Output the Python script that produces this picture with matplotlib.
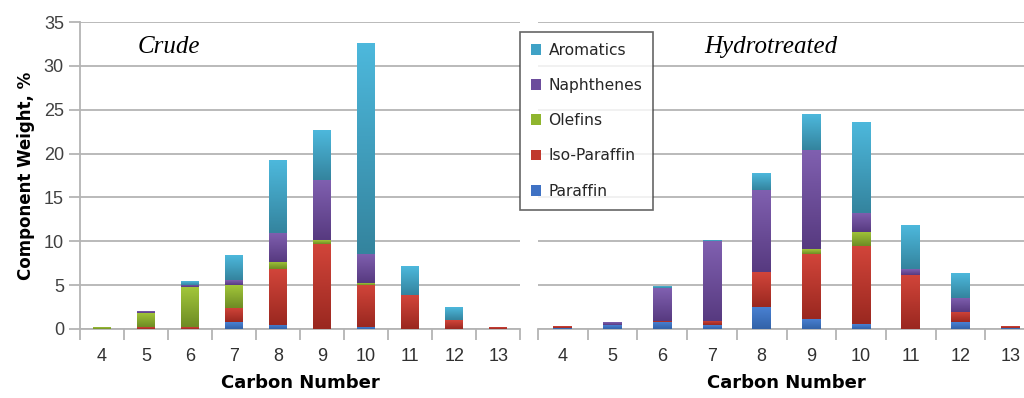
import matplotlib
matplotlib.use("Agg")
import matplotlib.pyplot as plt
import numpy as np
from matplotlib.colors import LinearSegmentedColormap
from matplotlib.patches import Patch

carbon = [4, 5, 6, 7, 8, 9, 10, 11, 12, 13]
groups = ["Paraffin", "Iso-Paraffin", "Olefins", "Naphthenes", "Aromatics"]

# component weight, % by carbon number (stacked bottom -> top)
crude_paraffin = [0.0, 0.0, 0.0, 0.76, 0.5, 0.0, 0.2, 0.0, 0.0, 0.0]
crude_iso = [0.0, 0.2, 0.2, 1.6, 6.3, 9.7, 4.8, 3.85, 1.0, 0.2]
crude_olefins = [0.15, 1.6, 4.55, 2.6, 0.8, 0.4, 0.2, 0.0, 0.0, 0.0]
crude_naphthenes = [0.0, 0.2, 0.27, 0.57, 3.4, 6.85, 3.35, 0.0, 0.0, 0.0]
crude_aromatics = [0.0, 0.0, 0.38, 2.8, 8.3, 5.6, 23.95, 3.2, 1.45, 0.0]

hydro_paraffin = [0.15, 0.4, 0.83, 0.45, 2.55, 1.15, 0.57, 0.0, 0.75, 0.15]
hydro_iso = [0.2, 0.05, 0.12, 0.5, 3.9, 7.45, 8.9, 6.2, 1.15, 0.2]
hydro_olefins = [0.0, 0.0, 0.0, 0.0, 0.0, 0.5, 1.6, 0.0, 0.0, 0.0]
hydro_naphthenes = [0.0, 0.3, 3.7, 9.05, 9.45, 11.3, 2.2, 0.65, 1.6, 0.0]
hydro_aromatics = [0.0, 0.0, 0.15, 0.1, 1.9, 4.0, 10.35, 5.0, 2.75, 0.0]

# (legend colour, light top, dark bottom) per component
COLORS = {
    "Paraffin": ("#3f72c4", "#4a82d4", "#3262a8"),
    "Iso-Paraffin": ("#c0392e", "#d2453a", "#9a2820"),
    "Olefins": ("#8fb52e", "#a2c63a", "#6e8c24"),
    "Naphthenes": ("#6c4d9c", "#8060b0", "#573a80"),
    "Aromatics": ("#3fa2c6", "#4db8dc", "#34849e"),
}
GRID = "#b4b4b4"
TICK_FONT = ["Liberation Sans Narrow", "Liberation Sans", "DejaVu Sans"]


def gradient_bar(ax, x, bottom, height, width, name):
    if height <= 0:
        return
    _, top, bot = COLORS[name]
    cmap = LinearSegmentedColormap.from_list(name, [bot, top])
    grad = np.linspace(0, 1, 64).reshape(-1, 1)
    ax.imshow(grad, cmap=cmap, origin="lower", aspect="auto", interpolation="bicubic",
              extent=[x - width / 2, x + width / 2, bottom, bottom + height], zorder=3)


def draw_panel(ax, data, width, title, title_x):
    x = np.arange(len(carbon))
    bottom = np.zeros(len(carbon))
    for name, vals in zip(groups, data):
        vals = np.asarray(vals)
        for xi, b, h in zip(x, bottom, vals):
            gradient_bar(ax, xi, b, h, width, name)
        bottom += vals
    ax.set_xlim(-0.5, len(carbon) - 0.5)
    ax.set_ylim(0, 35)
    ax.set_yticks(np.arange(0, 36, 5))
    ax.yaxis.grid(True, color=GRID, lw=1.3)
    ax.set_axisbelow(True)
    ax.set_xticks(x)
    ax.set_xticklabels(carbon, fontsize=13, family=TICK_FONT, color="#303030")
    ax.set_xticks(np.arange(-0.5, len(carbon), 1.0), minor=True)
    ax.tick_params(axis="x", which="major", length=0, pad=14)
    ax.tick_params(axis="x", which="minor", length=8, color=GRID, width=1.3)
    for s in ("top", "right"):
        ax.spines[s].set_visible(False)
    ax.spines["bottom"].set_color(GRID)
    ax.spines["bottom"].set_linewidth(1.3)
    ax.set_xlabel("Carbon Number", fontsize=13, fontweight="bold", labelpad=6)
    ax.text(title_x, 32.2, title, fontsize=18, style="italic", family="Liberation Serif",
            ha="left", va="center")


fig = plt.figure(figsize=(10.24, 3.98), dpi=100)
ax1 = fig.add_axes([0.078, 0.1734, 0.430, 0.7713])
ax2 = fig.add_axes([0.5254, 0.1734, 0.4854, 0.7713])

draw_panel(ax1, [crude_paraffin, crude_iso, crude_olefins, crude_naphthenes, crude_aromatics],
           0.40, "Crude", 0.8)
draw_panel(ax2, [hydro_paraffin, hydro_iso, hydro_olefins, hydro_naphthenes, hydro_aromatics],
           0.38, "Hydrotreated", 2.85)

ax1.spines["left"].set_color(GRID)
ax1.spines["left"].set_linewidth(1.3)
ax1.tick_params(axis="y", length=8, color=GRID, width=1.3, labelsize=13, labelcolor="#404040")
for lab in ax1.get_yticklabels():
    lab.set_family(TICK_FONT)
ax1.set_ylabel("Component Weight, %", fontsize=12, fontweight="bold", labelpad=6)

ax2.spines["left"].set_visible(False)
ax2.tick_params(axis="y", left=False, labelleft=False)

handles = [Patch(facecolor=COLORS[g][0], edgecolor="none") for g in reversed(groups)]
leg = fig.legend(handles, list(reversed(groups)), loc="upper left",
                 bbox_to_anchor=(0.5075, 0.92), fontsize=11.2, frameon=True, fancybox=False,
                 edgecolor="#404040", handlelength=0.7, handleheight=0.7, handletextpad=0.45,
                 labelspacing=1.3, borderpad=0.7, borderaxespad=0.0)
leg.get_frame().set_linewidth(1.2)
for t in leg.get_texts():
    t.set_color("#262626")

fig.savefig("out.png", dpi=100)
